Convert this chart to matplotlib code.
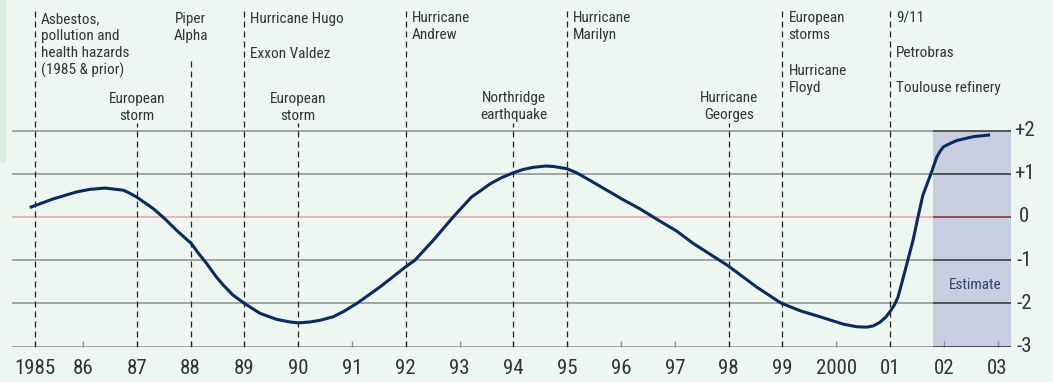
import matplotlib
matplotlib.use("Agg")
import matplotlib.pyplot as plt
from matplotlib import font_manager
from matplotlib.patches import Rectangle

# ---------------- data ----------------
curve_years = [1985.01, 1985.45, 1985.88, 1986.13, 1986.41, 1986.75, 1986.87, 1987.0, 1987.31,
               1987.52, 1987.74, 1988.01, 1988.14, 1988.30, 1988.48, 1988.61, 1988.79, 1989.0,
               1989.29, 1989.60, 1989.85, 1990.0, 1990.22, 1990.41, 1990.65, 1990.84, 1991.09,
               1991.52, 1992.0, 1992.17, 1992.51, 1992.88, 1993.22, 1993.38, 1993.57, 1993.78,
               1993.99, 1994.18, 1994.37, 1994.6, 1994.74, 1994.99, 1995.18, 1995.42, 1996.04,
               1996.35, 1996.69, 1997.04, 1997.34, 1997.98, 1998.52, 1998.97, 1999.33, 1999.70,
               2000.13, 2000.38, 2000.57, 2000.69, 2000.81, 2000.92, 2001.0, 2001.08, 2001.15,
               2001.30, 2001.43, 2001.52, 2001.61, 2001.76, 2001.87, 2001.93, 2001.99, 2002.08,
               2002.24, 2002.55, 2002.86]
curve_values = [0.22, 0.42, 0.58, 0.64, 0.67, 0.62, 0.55, 0.46, 0.19,
                -0.04, -0.31, -0.61, -0.83, -1.08, -1.39, -1.58, -1.81, -2.0,
                -2.23, -2.37, -2.43, -2.45, -2.43, -2.39, -2.31, -2.19, -2.0,
                -1.62, -1.15, -1.0, -0.54, 0.0, 0.46, 0.60, 0.77, 0.91,
                1.02, 1.10, 1.15, 1.18, 1.17, 1.12, 1.02, 0.85, 0.40,
                0.19, -0.07, -0.33, -0.61, -1.12, -1.62, -1.99, -2.17, -2.31,
                -2.48, -2.54, -2.55, -2.52, -2.44, -2.32, -2.19, -2.04, -1.85,
                -1.15, -0.53, 0.0, 0.50, 1.0, 1.39, 1.52, 1.62, 1.68,
                1.77, 1.86, 1.90]

tick_years = [1985.1, 1986, 1987, 1988, 1989, 1990, 1991, 1992, 1993, 1994, 1995,
              1996, 1997, 1998, 1999, 2000, 2001, 2002, 2003]
tick_labels = ["1985", "86", "87", "88", "89", "90", "91", "92", "93", "94", "95",
               "96", "97", "98", "99", "2000", "01", "02", "03"]
y_ticks = [2, 1, 0, -1, -2, -3]
y_tick_labels = ["+2", "+1", "0", "-1", "-2", "-3"]

event_years = [1985.1, 1987, 1988, 1989, 1990, 1992, 1994, 1995, 1998, 1999, 2001]
event_labels = [
    ["Asbestos,\npollution and\nhealth hazards\n(1985 & prior)"],
    ["European\nstorm"],
    ["Piper\nAlpha"],
    ["Hurricane Hugo", "Exxon Valdez"],
    ["European\nstorm"],
    ["Hurricane\nAndrew"],
    ["Northridge\nearthquake"],
    ["Hurricane\nMarilyn"],
    ["Hurricane\nGeorges"],
    ["European\nstorms", "Hurricane\nFloyd"],
    ["9/11", "Petrobras", "Toulouse refinery"],
]
estimate_start = 2001.79
estimate_label = "Estimate"

# ---------------- layout (pixels) ----------------
W, H = 1053, 382
PX_PER_YEAR = 53.8
PX_PER_UNIT = 43.2
X_LEFT_PX, X_RIGHT_PX = 12, 1011
ZERO_PX = 217
X0_YEAR = 1986 - (83 - X_LEFT_PX) / PX_PER_YEAR
X1_YEAR = X0_YEAR + (X_RIGHT_PX - X_LEFT_PX) / PX_PER_YEAR
Y_TOP = ZERO_PX / PX_PER_UNIT
AX_BOTTOM_PX = ZERO_PX + 3 * PX_PER_UNIT

def py2val(py):
    return (ZERO_PX - py) / PX_PER_UNIT

label_layout = [
    ("left", [19]),
    ("center", [99]),
    ("center", [19]),
    ("left", [19, 54]),
    ("center", [99]),
    ("left", [18]),
    ("center", [98]),
    ("left", [18]),
    ("center", [98]),
    ("left", [18, 71]),
    ("left", [18, 53, 88]),
]
line_top_px = [10, 123, 58, 10, 123, 10, 123, 10, 123, 10, 10]

# ---------------- fonts ----------------
names = {f.name for f in font_manager.fontManager.ttflist}
prefs = ["Roboto Condensed", "Fira Sans Condensed", "PT Sans Narrow", "Asap Condensed",
         "IBM Plex Sans Condensed", "Archivo Narrow", "Encode Sans Condensed",
         "Liberation Sans Narrow", "Liberation Sans"]
FONT = next((p for p in prefs if p in names), "DejaVu Sans")
plt.rcParams["font.family"] = [FONT, "DejaVu Sans"]
plt.rcParams["lines.scale_dashes"] = False

BG = "#EEF6F1"
STRIP = "#DCEEE3"
TXT = "#333333"
GRID = "#8E8E8E"
GRID_DARK = "#2E2E2E"
ZERO = "#E3A5AB"
ZERO_DARK = "#8E2433"
SHADE = "#C8CEE0"
NAVY = "#0B2B5E"

fig = plt.figure(figsize=(W / 100, H / 100), dpi=100, facecolor=BG)
fig.patches.append(Rectangle((0, 1 - 163 / H), 6 / W, 163 / H, transform=fig.transFigure,
                             facecolor=STRIP, edgecolor="none", zorder=0))

ax = fig.add_axes([X_LEFT_PX / W, 1 - AX_BOTTOM_PX / H,
                   (X_RIGHT_PX - X_LEFT_PX) / W, AX_BOTTOM_PX / H])
ax.set_facecolor("none")
ax.set_xlim(X0_YEAR, X1_YEAR)
ax.set_ylim(-3, Y_TOP)
for s in ax.spines.values():
    s.set_visible(False)

ax.add_patch(Rectangle((estimate_start, -3), X1_YEAR - estimate_start, 5,
                       facecolor=SHADE, edgecolor="none", zorder=1))
ax.text(estimate_start + (X1_YEAR - estimate_start) / 2 + 0.06, py2val(285), estimate_label,
        ha="center", va="center", fontsize=11, color="#2B4673", zorder=3)

for v in y_ticks:
    c1, c2 = (ZERO, ZERO_DARK) if v == 0 else (GRID, GRID_DARK)
    ax.hlines(v, X0_YEAR, estimate_start, color=c1, lw=1.1, zorder=2)
    ax.hlines(v, estimate_start, X1_YEAR, color=c2, lw=1.1, zorder=2)

for yr, lbls, (align, ys), top in zip(event_years, event_labels, label_layout, line_top_px):
    ax.vlines(yr, -3, py2val(top), color="#222222", lw=0.9, linestyles=(0, (4.3, 2.9)), zorder=2)
    for txt, yc in zip(lbls, ys):
        for i, ln in enumerate(txt.split("\n")):
            ypx = yc + i * 17.2
            if align == "left":
                x, ha = yr + 6 / PX_PER_YEAR, "left"
            else:
                x, ha = yr, "center"
            ax.text(x, py2val(ypx), ln, ha=ha, va="center", fontsize=11, color=TXT, zorder=3)

ax.plot(curve_years, curve_values, color=NAVY, lw=2.2, zorder=4,
        solid_capstyle="butt", solid_joinstyle="round")

ax.set_xticks(tick_years)
ax.set_xticklabels(tick_labels)
ax.tick_params(axis="x", direction="in", length=4, width=1, color=GRID,
               labelsize=15, labelcolor=TXT, pad=9)
ax.yaxis.tick_right()
ax.set_yticks(y_ticks)
ax.set_yticklabels(y_tick_labels)
ax.tick_params(axis="y", length=0, labelsize=15, labelcolor=TXT, pad=9.5)
for lab in ax.get_yticklabels():
    lab.set_horizontalalignment("center")
    lab.set_verticalalignment("center")

fig.savefig("out.png", dpi=100, facecolor=BG)
